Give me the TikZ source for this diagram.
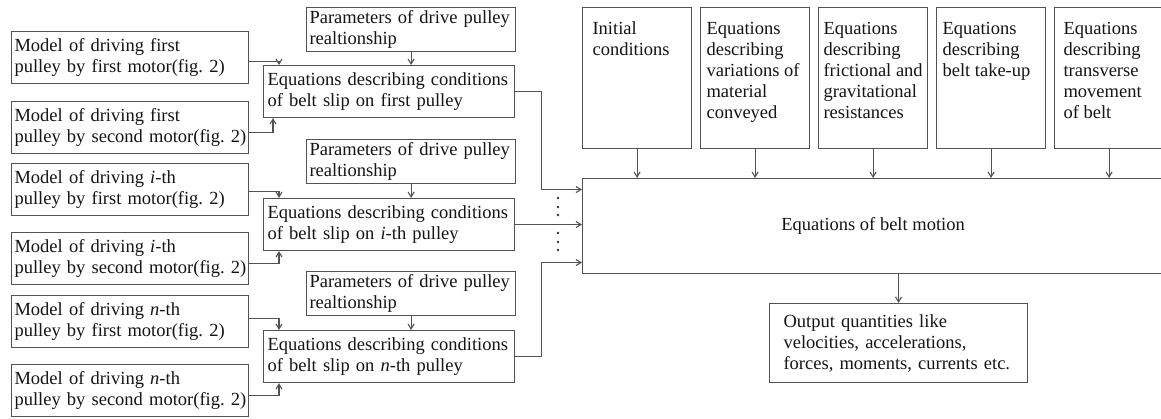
\documentclass[tikz,border=0pt]{standalone}
\usepackage{fontspec}
\setmainfont{Liberation Serif}
\usetikzlibrary{arrows.meta,calc}
\newcommand{\tboxtext}[2]{\parbox[t][141pt][t]{109pt}{\vspace*{14.5pt}\raggedright\leftskip=#1\relax #2}}
\begin{document}
\frenchspacing
\begin{tikzpicture}[x=1pt,y=-1pt,
  every node/.style={font=\fontsize{18.5}{21}\selectfont\frenchspacing, text=black!92},
  box/.style={draw=black!68, line width=1.1pt, anchor=north west, inner ysep=0pt, align=left},
  lbox/.style={box, minimum width=237pt, minimum height=52pt, text width=231pt, inner xsep=3pt},
  ebox/.style={box, minimum width=251pt, minimum height=52pt, text width=243pt, inner xsep=4pt},
  pbox/.style={box, minimum width=209pt, minimum height=44pt, text width=203pt, inner xsep=3pt},
  tbox/.style={draw=black!68, line width=1.1pt, anchor=north west, inner sep=0pt},
  arr/.style={draw=black!68, line width=1.1pt, -{Straight Barb[length=5pt,width=6pt]}},
  vdot/.style={fill=black!80},
]
\useasboundingbox (0,0) rectangle (1161,419);
\clip (0,0) rectangle (1161,419);

% left column: motor models
\node[lbox] (b1) at (11,31)  {\mbox{Model of driving first}\\\mbox{pulley by first motor(fig. 2)}};
\node[lbox] (b2) at (11,101) {\mbox{Model of driving first}\\\mbox{pulley by second motor(fig. 2)}};
\node[lbox] (b3) at (11,163) {\mbox{Model of driving \textit{i}-th}\\\mbox{pulley by first motor(fig. 2)}};
\node[lbox] (b4) at (11,232) {\mbox{Model of driving \textit{i}-th}\\\mbox{pulley by second motor(fig. 2)}};
\node[lbox] (b5) at (11,295) {\mbox{Model of driving \textit{n}-th}\\\mbox{pulley by first motor(fig. 2)}};
\node[lbox] (b6) at (11,364) {\mbox{Model of driving \textit{n}-th}\\\mbox{pulley by second motor(fig. 2)}};

% parameters
\node[pbox] (p1) at (306,7)   {Parameters of drive pulley\\realtionship};
\node[pbox] (p2) at (306,139) {Parameters of drive pulley\\realtionship};
\node[pbox] (p3) at (306,271) {Parameters of drive pulley\\realtionship};

% slip equations
\node[ebox] (e1) at (263,65)  {\mbox{Equations describing conditions}\\of belt slip on first pulley};
\node[ebox] (e2) at (263,198) {\mbox{Equations describing conditions}\\of belt slip on \textit{i}-th pulley};
\node[ebox] (e3) at (263,330) {\mbox{Equations describing conditions}\\of belt slip on \textit{n}-th pulley};

% top boxes
\node[tbox] (t1) at (582,7)  {\tboxtext{10pt}{Initial\\conditions}};
\node[tbox] (t2) at (700,7)  {\tboxtext{6pt}{Equations\\describing\\variations of\\material\\conveyed}};
\node[tbox] (t3) at (818,7)  {\tboxtext{5pt}{Equations\\describing\\frictional and\\gravitational\\resistances}};
\node[tbox] (t4) at (936,7)  {\tboxtext{6pt}{Equations\\describing\\belt take-up}};
\node[tbox] (t5) at (1054,7) {\tboxtext{9pt}{Equations\\describing\\transverse\\movement\\of belt}};

% main box
\node[box, minimum width=581pt, minimum height=95pt, inner sep=0pt, align=center] (big) at (582,178) {Equations of belt motion};

% output
\node[box, minimum width=258pt, minimum height=79pt, text width=230pt, inner xsep=14pt] (out) at (769,303)
  {Output quantities like\\velocities, accelerations,\\\mbox{forces, moments, currents etc.}};

% connectors: motors -> slip equations
\draw[arr] ([yshift=-4pt]b1.east) -| ([xshift=16pt]e1.north west);
\draw[arr] ([yshift=-5pt]b2.east) -| ([xshift=10pt]e1.south west);
\draw[arr] ([yshift=-2pt]b3.east) -| ([xshift=16pt]e2.north west);
\draw[arr] ([yshift=-5pt]b4.east) -| ([xshift=16pt]e2.south west);
\draw[arr] ([yshift=3pt]b5.east) -| ([xshift=16pt]e3.north west);
\draw[arr] ([yshift=-5pt]b6.east) -| ([xshift=16pt]e3.south west);

% parameters -> slip equations
\draw[arr] (p1.south) -- (p1.south |- e1.north);
\draw[arr] (p2.south) -- (p2.south |- e2.north);
\draw[arr] (p3.south) -- (p3.south |- e3.north);

% slip equations -> main box
\draw[arr] (e1.east) -- ++(26,0) |- ([yshift=36.5pt]big.west);
\draw[arr] (e2.east) -- (e2.east -| big.west);
\draw[arr] (e3.east) -- ++(26,0) |- ([yshift=-36.5pt]big.west);

% top boxes -> main box
\foreach \t in {t1,t2,t3,t4,t5}
  \draw[arr] (\t.south) -- (\t.south |- big.north);

% main -> output
\draw[arr] (big.south -| out.north) -- (out.north);

% vertical dots
\foreach \yy in {198,207,215,233,242,250}
  \fill[vdot] (558,\yy) circle (1.3pt);
\end{tikzpicture}
\end{document}
